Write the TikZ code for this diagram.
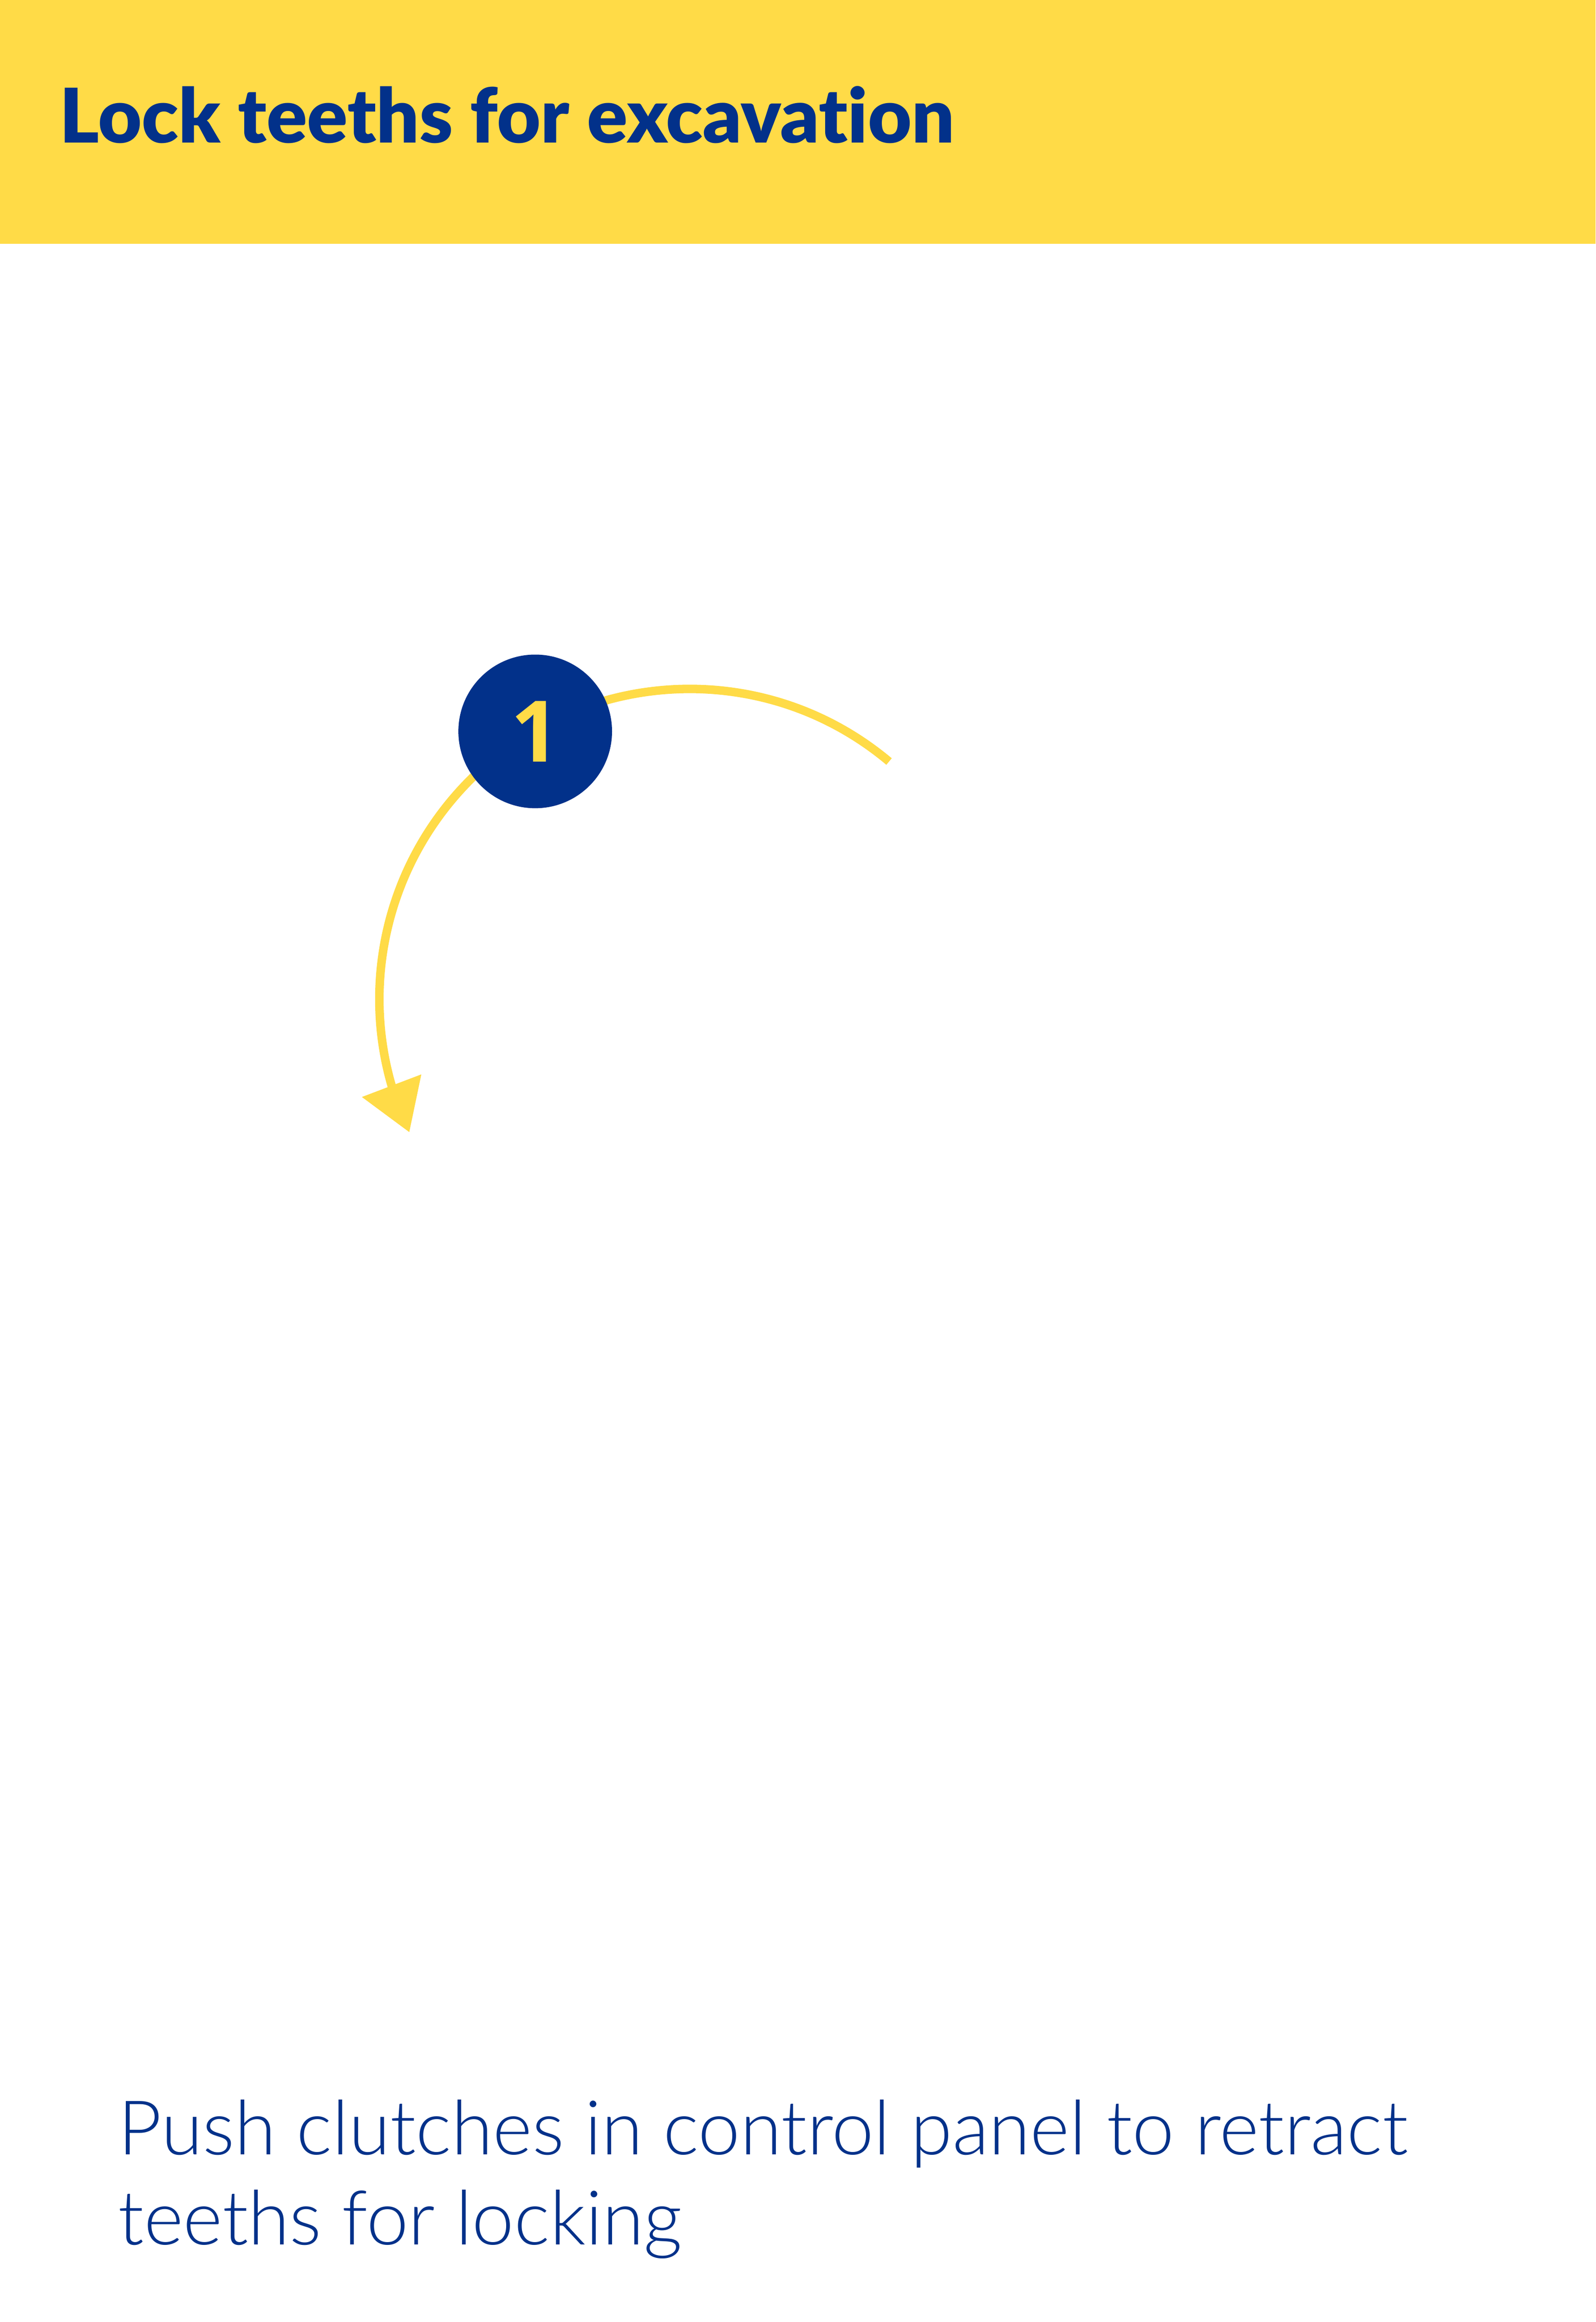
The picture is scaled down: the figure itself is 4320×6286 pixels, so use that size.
\documentclass[tikz,border=0pt]{standalone}
\usepackage{fontspec}
\usetikzlibrary{arrows.meta,bending}
\newfontfamily\headfont{Lato Black}[Ligatures=NoCommon]
\newfontfamily\bodyfont{Lato Light}
\newfontfamily\digitfont{Open Sans}
\definecolor{signyellow}{HTML}{FFDB47}
\definecolor{signblue}{HTML}{02318A}
\begin{document}
\begin{tikzpicture}[x=0.1pt,y=0.1pt,
	banner/.style={fill=signyellow},
	badge/.style={circle,fill=signblue,text=signyellow,minimum size=41.6pt,inner sep=0pt,font=\digitfont\bfseries\fontsize{23}{23}\selectfont},
	turn/.style={draw=signyellow,line width=2.3pt,-{Triangle[length=13.5pt,width=16.6pt,flex]}}]
	\useasboundingbox (0,0) rectangle (4320,-6286);
	\fill[banner] (0,0) rectangle (4320,-660);
	\node[anchor=base west,inner sep=0pt,text=signblue,font=\headfont\fontsize{20.4}{24}\selectfont] (title) at (160,-387) {Lock teeths for excavation};
	\coordinate (pivot) at (1867,-2705);
	\draw[turn] (pivot) ++(50:840) arc[start angle=50,end angle=205.4,radius=840];
	\node[badge] (step1) at (1449,-1980) {1};
	% anchor is on the last line
	\node[anchor=base west,inner sep=0pt,align=left,text=signblue,font=\bodyfont\fontsize{20.4}{24.4}\selectfont] (hint) at (318,-6077) {Push clutches in control panel to retract\\teeths for locking};
\end{tikzpicture}
\end{document}
